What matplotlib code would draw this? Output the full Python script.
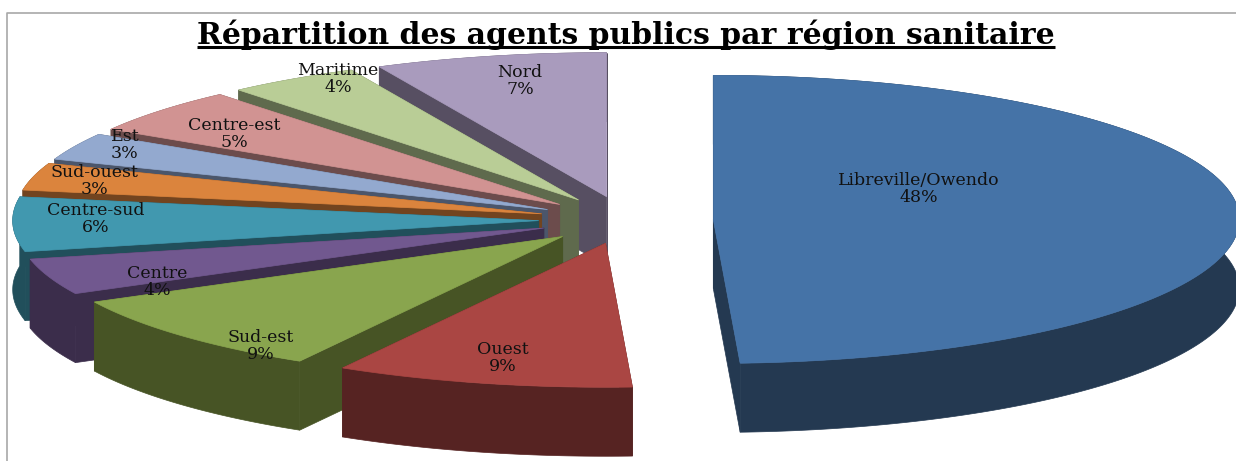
import matplotlib
matplotlib.use("Agg")
import matplotlib.pyplot as plt
import numpy as np

regions = ["Libreville/Owendo", "Ouest", "Sud-est", "Centre", "Centre-sud",
           "Sud-ouest", "Est", "Centre-est", "Maritime", "Nord"]
# printed labels are rounded; Libreville reads a little above 48 on the picture
percents = [48.4, 9, 9, 4, 6, 3, 3, 5, 4, 7]

top_colors = ["#4573A7", "#AA4643", "#89A54E", "#71588F", "#4198AF",
              "#DB843D", "#93A9CF", "#D19392", "#B9CD96", "#A99BBD"]
side_colors = ["#243951", "#562322", "#475425", "#3B2D4B", "#214F5B",
               "#72441F", "#4B566B", "#6C4C4C", "#5F6A4D", "#574F62"]

# label centres in figure pixels
label_pos = [(919, 189), (503, 358), (261, 346), (157, 282), (96, 219),
             (94, 181), (125, 145), (234, 134), (338, 79), (520, 81)]

# pie geometry, in pixels
cx, cy = 626, 220
rx, ry = 526, 144
explode = 0.166
depth = 69

title = "Répartition des agents publics par région sanitaire"


def rim(a0, a1, x0, y0):
    t = np.radians(np.linspace(a0, a1, max(int(a1 - a0) * 2, 2) + 1))
    return x0 + rx * np.sin(t), y0 - ry * np.cos(t)


def draw_slice(ax, a0, a1, top, side):
    mid = np.radians((a0 + a1) / 2)
    x0 = cx + explode * rx * np.sin(mid)
    y0 = cy - explode * ry * np.cos(mid)
    xs, ys = rim(a0, a1, x0, y0)
    # walls first, then the rim strip, then the top face
    for xe, ye in [(xs[0], ys[0]), (xs[-1], ys[-1])]:
        ax.fill([x0, xe, xe, x0], [y0, ye, ye + depth, y0 + depth],
                color=side, lw=0.5)
    ax.fill(np.r_[xs, xs[::-1]], np.r_[ys, ys[::-1] + depth], color=side, lw=0.5)
    ax.fill(np.r_[x0, xs], np.r_[y0, ys], color=top, lw=0.5)


def plot_chart():
    fig = plt.figure(figsize=(12.36, 4.61), dpi=100)
    ax = fig.add_axes([0, 0, 1, 1])
    ax.set_xlim(0, 1236)
    ax.set_ylim(461, 0)
    ax.axis("off")

    ax.plot([7, 7, 1236], [461, 13, 13], color="#A8A8A8", lw=1.2)

    edges = np.r_[0, np.cumsum(percents)] / np.sum(percents) * 360
    # back slices first, going round from Nord to Libreville
    for i in range(len(regions) - 1, -1, -1):
        draw_slice(ax, edges[i], edges[i + 1], top_colors[i], side_colors[i])

    for name, pct, (x, y) in zip(regions, percents, label_pos):
        ax.text(x, y, f"{name}\n{round(pct)}%", ha="center", va="center",
                family="DejaVu Serif", fontsize=12.5, color="#111111", linespacing=0.95)

    t = ax.text(626, 44, title, ha="center", va="baseline", family="DejaVu Serif",
                fontweight="bold", fontsize=21.5, color="black")
    fig.canvas.draw()
    box = t.get_window_extent()
    ax.plot([box.x0, box.x1], [47, 47], color="black", lw=2.2, solid_capstyle="butt")

    fig.savefig("out.png", dpi=100)


if __name__ == "__main__":
    plot_chart()
